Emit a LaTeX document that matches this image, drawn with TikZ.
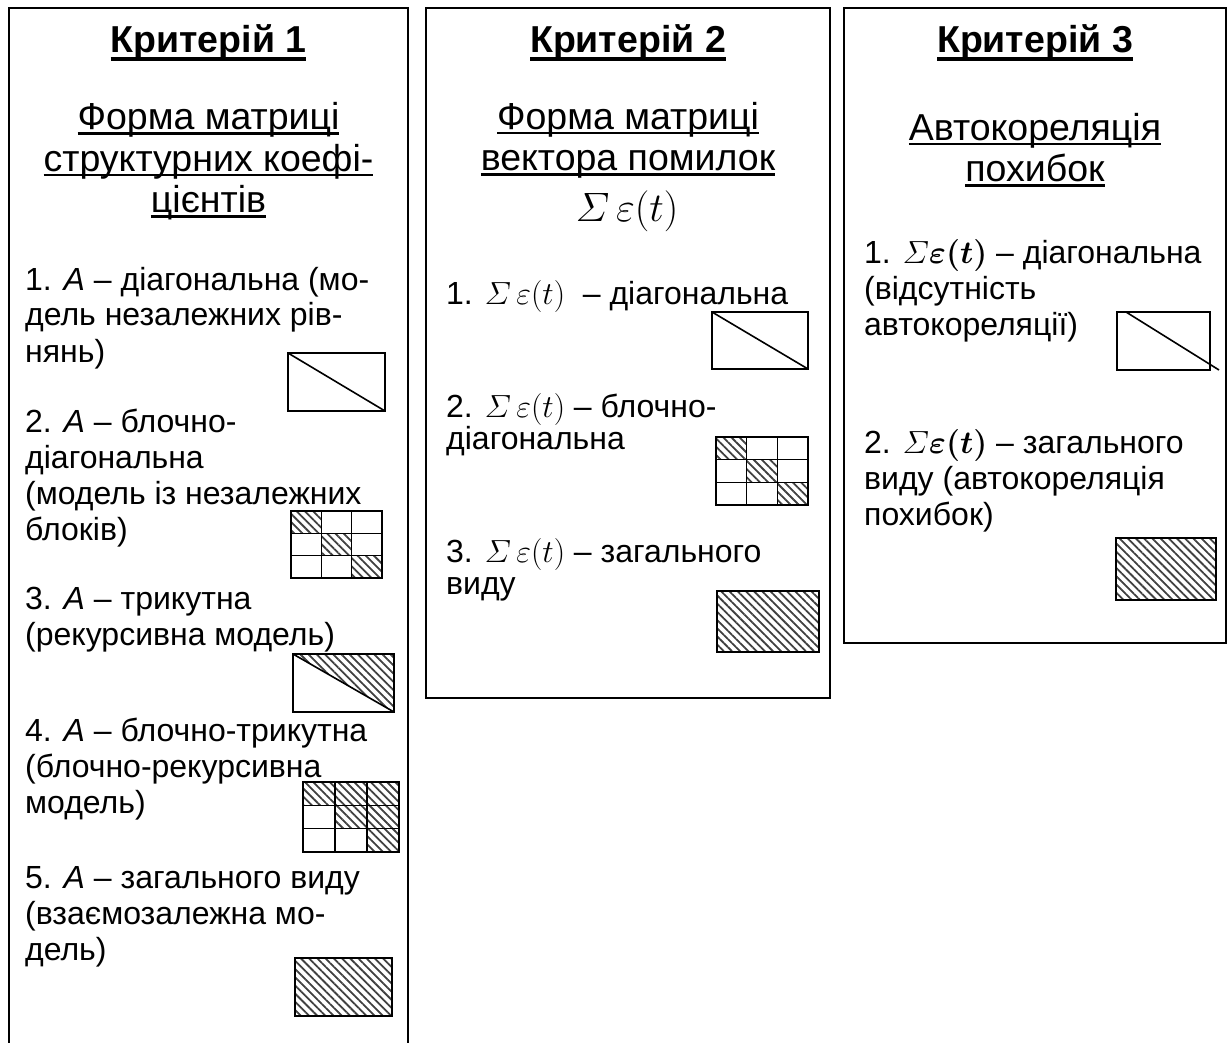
\documentclass[tikz,border=0pt]{standalone}
\usepackage{fix-cm}
\usepackage{amsmath}
\usepackage[no-math]{fontspec}
\setmainfont{Liberation Sans}
\usetikzlibrary{patterns.meta}

\newcommand{\lw}{2pt}
\newcommand{\bodysize}{\fontsize{32}{36}\selectfont}
\newcommand{\titlesize}{\fontsize{37.5}{41.5}\selectfont}
% underline at a fixed depth below the baseline: offset, thickness, text
\newcommand{\undl}[3]{\setbox0\hbox{#3}\rlap{\vrule height -#1 depth \dimexpr#1+#2\relax width \wd0}\box0}
\newcommand{\hd}[1]{\undl{4.5pt}{3.2pt}{#1}}
\newcommand{\subl}[1]{\undl{2.5pt}{2.2pt}{#1}}
\newcommand{\se}{\varSigma\,\varepsilon(t)}
\newcommand{\seb}{\varSigma\boldsymbol{\varepsilon(t)}}
% 3x3 block matrix: x0, y0, x1, y1, hatched cells col/row
\newcommand{\cellgrid}[5]{%
  \foreach \c/\r in {#5}
    \fill[hatch] ({#1+(\c-1)*(#3-#1)/3},{#2+(\r-1)*(#4-#2)/3}) rectangle ++({(#3-#1)/3},{(#4-#2)/3});
  \foreach \k in {1,2} {
    \draw[mat] ({#1+\k*(#3-#1)/3},#2) -- ({#1+\k*(#3-#1)/3},#4);
    \draw[mat] (#1,{#2+\k*(#4-#2)/3}) -- (#3,{#2+\k*(#4-#2)/3});
  }
  \draw[mat] (#1,#2) rectangle (#3,#4);}

\begin{document}
\begin{tikzpicture}[x=1pt, y=-1pt,
    frame/.style={line width=\lw},
    mat/.style={line width=1.6pt},
    hatch/.style={pattern={Lines[angle=-45,distance=5.8pt,line width=1.8pt]}, pattern color=black!75},
    head/.style={font=\bfseries\titlesize, anchor=base, inner sep=0pt},
    subt/.style={font=\titlesize, anchor=base, align=center, inner sep=0pt},
    itm/.style={font=\bodysize, anchor=base west, align=left, inner sep=0pt},
    itmb/.style={itm, font=\fontsize{32}{31.5}\selectfont}]
  \useasboundingbox (0,0) rectangle (1227,1043);

  % criterion 1 (nodes sit on the baseline of their last line)
  \draw[frame] (9,1043) -- (9,8) -- (408,8) -- (408,1043);
  \node[head] (crit1) at (208.5,53) {\hd{Критерій 1}};
  \node[subt] (form1) at (208.5,213) {\subl{Форма матриці}\\\subl{структурних коефі-}\\\subl{цієнтів}};
  \node[itm] (a1) at (25,362) {1. \textit{A} – діагональна (мо-\\дель незалежних рів-\\нянь)};
  \draw[mat] (288,353) rectangle (385,411) (288,353) -- (385,411);
  \node[itm] (a2) at (25,540) {2. \textit{A} – блочно-\\діагональна\\(модель із незалежних\\блоків)};
  \cellgrid{291}{511}{382}{578}{1/1,2/2,3/3}
  \node[itm] (a3) at (25,645) {3. \textit{A} – трикутна\\(рекурсивна модель)};
  \fill[hatch] (293,654) -- (394,654) -- (394,712) -- cycle;
  \draw[mat] (293,654) rectangle (394,712) (293,654) -- (394,712);
  \node[itm] (a4) at (25,813) {4. \textit{A} – блочно-трикутна\\(блочно-рекурсивна\\модель)};
  \cellgrid{303}{782}{399}{852}{1/1,2/1,3/1,2/2,3/2,3/3}
  \node[itm] (a5) at (25,960) {5. \textit{A} – загального виду\\(взаємозалежна мо-\\дель)};
  \draw[mat,hatch] (295,958) rectangle (392,1016);

  % criterion 2
  \draw[frame] (426,8) rectangle (830,698);
  \node[head] (crit2) at (628,53) {\hd{Критерій 2}};
  \node[subt] (form2) at (628,171) {\subl{Форма матриці}\\\subl{вектора помилок}};
  \node[subt, font=\fontsize{41}{45}\selectfont] (sig2) at (627,222) {$\se$};
  \node[itmb] (b1) at (446,305) {1. $\se$\ \ – діагональна};
  \draw[mat] (712,312) rectangle (808,369) (712,312) -- (808,369);
  \node[itmb] (b2) at (446,449) {2. $\se$ – блочно-\\діагональна};
  \cellgrid{716}{437}{808}{505}{1/1,2/2,3/3}
  \node[itmb] (b3) at (446,594) {3. $\se$ – загального\\виду};
  \draw[mat,hatch] (717,591) rectangle (819,652);

  % criterion 3
  \draw[frame] (844,8) rectangle (1226,643);
  \node[head] (crit3) at (1035,53) {\hd{Критерій 3}};
  \node[subt] (form3) at (1035,182) {\subl{Автокореляція}\\\subl{похибок}};
  \node[itm] (c1) at (864,335) {1. $\seb$ – діагональна\\(відсутність\\автокореляції)};
  \draw[mat] (1117,312) rectangle (1210,370) (1126,312) -- (1219,370);
  \node[itm] (c2) at (864,525) {2. $\seb$ – загального\\виду (автокореляція\\похибок)};
  \draw[mat,hatch] (1116,538) rectangle (1216,600);
\end{tikzpicture}
\end{document}
